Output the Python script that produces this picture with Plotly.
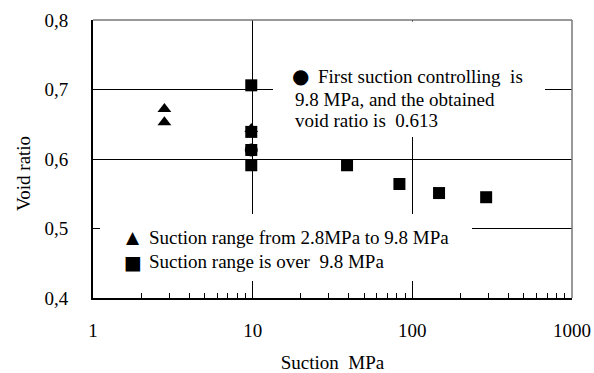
import plotly.graph_objects as go

# Data
tri_x = [2.8, 2.8, 9.8]
tri_y = [0.672, 0.653, 0.643]
sq_x = [9.8, 9.8, 9.8, 9.8, 39, 83, 147, 290]
sq_y = [0.706, 0.639, 0.613, 0.591, 0.591, 0.564, 0.551, 0.545]
circ_x = [9.8]
circ_y = [0.613]
y_ticks = [0.4, 0.5, 0.6, 0.7, 0.8]
x_ticks = [1, 10, 100, 1000]
x_minor = [2, 3, 4, 5, 6, 7, 8, 9, 20, 30, 40, 50, 60, 70, 80, 90, 200, 300, 400, 500, 600, 700, 800, 900]
legend_names = ["Suction range from 2.8MPa to 9.8 MPa", "Suction range is over  9.8 MPa"]
legend_glyphs = ["▲", "■"]
note_lines = ["First suction controlling  is", "9.8 MPa, and the obtained", "void ratio is  0.613"]

FONT = "Liberation Serif"
FS = 19

# plot area in pixels (for placing paper-referenced text)
L, R, T, B = 93, 572, 20, 298
def px(xp):
    return (xp - L) / (R - L)
def py(yp):
    return (B - yp) / (B - T)

fig = go.Figure()
fig.add_trace(go.Scatter(x=circ_x, y=circ_y, mode="markers", showlegend=False,
                         marker=dict(symbol="circle", size=13, color="black")))
fig.add_trace(go.Scatter(x=tri_x, y=tri_y, mode="markers", name=legend_names[0], showlegend=False,
                         marker=dict(symbol="triangle-up", size=12, color="black")))
fig.add_trace(go.Scatter(x=sq_x, y=sq_y, mode="markers", name=legend_names[1], showlegend=False,
                         marker=dict(symbol="square", size=12, color="black")))

annotations = []
# hand-built legend
for i, (g, name) in enumerate(zip(legend_glyphs, legend_names)):
    yc = 237 + 24.5 * i
    annotations.append(dict(text=g, xref="paper", yref="paper", x=px(133), y=py(yc),
                            xanchor="center", yanchor="middle", showarrow=False,
                            font=dict(family="DejaVu Sans", size=17 if i == 0 else 19)))
    annotations.append(dict(text=name, xref="paper", yref="paper", x=px(147), y=py(yc),
                            xanchor="left", yanchor="middle", showarrow=False,
                            font=dict(family=FONT, size=FS)))
# note box
annotations.append(dict(text="●", xref="paper", yref="paper", x=px(300), y=py(76),
                        xanchor="center", yanchor="middle", showarrow=False,
                        font=dict(family="DejaVu Sans", size=20)))
for i, (line, yc) in enumerate(zip(note_lines, [77, 99.5, 121])):
    annotations.append(dict(text=line, xref="paper", yref="paper", x=px(316 if i == 0 else 293), y=py(yc),
                            xanchor="left", yanchor="middle", showarrow=False,
                            font=dict(family=FONT, size=FS)))
# y-axis title
annotations.append(dict(text="Void ratio", xref="paper", yref="paper", x=px(23), y=py(174),
                        xanchor="center", yanchor="middle", textangle=-90, showarrow=False,
                        font=dict(family=FONT, size=FS)))

fig.update_layout(
    width=594, height=373,
    margin=dict(l=L, r=594 - R, t=T, b=373 - B),
    paper_bgcolor="white", plot_bgcolor="white",
    separators=", ",
    font=dict(family=FONT, size=FS, color="black"),
    showlegend=False,
    xaxis=dict(type="log", range=[0, 3], tickvals=x_ticks, ticktext=[str(v) for v in x_ticks],
               showgrid=True, gridcolor="black", gridwidth=1,
               showline=True, linecolor="black", linewidth=2,
               ticks="inside", ticklen=14, tickcolor="black", tickwidth=1,
               minor=dict(tickvals=x_minor, ticks="inside", ticklen=5, tickcolor="black",
                          tickwidth=1, showgrid=False),
               ticklabelstandoff=14, zeroline=False, automargin=False,
               title=dict(text="Suction  MPa", font=dict(family=FONT, size=FS), standoff=22)),
    yaxis=dict(range=[0.4, 0.8], tickvals=y_ticks, tickformat=".1f",
               showgrid=True, gridcolor="black", gridwidth=1,
               showline=True, linecolor="black", linewidth=2,
               ticks="inside", ticklen=12, tickcolor="black", tickwidth=1,
               ticklabelstandoff=19, zeroline=False, automargin=False),
    shapes=[
        dict(type="rect", xref="paper", yref="paper", x0=px(273), x1=px(545), y0=py(137), y1=py(21.5),
             fillcolor="white", line=dict(width=0), layer="above"),
        dict(type="rect", xref="paper", yref="paper", x0=px(100), x1=px(472), y0=py(281), y1=py(214),
             fillcolor="white", line=dict(width=0), layer="above"),
        dict(type="line", xref="paper", yref="paper", x0=0, x1=1, y0=1, y1=1,
             line=dict(color="#777777", width=1.5)),
        dict(type="line", xref="paper", yref="paper", x0=1, x1=1, y0=0, y1=1,
             line=dict(color="#777777", width=1.5)),
    ],
    annotations=annotations,
)

fig.write_html("out.html")
